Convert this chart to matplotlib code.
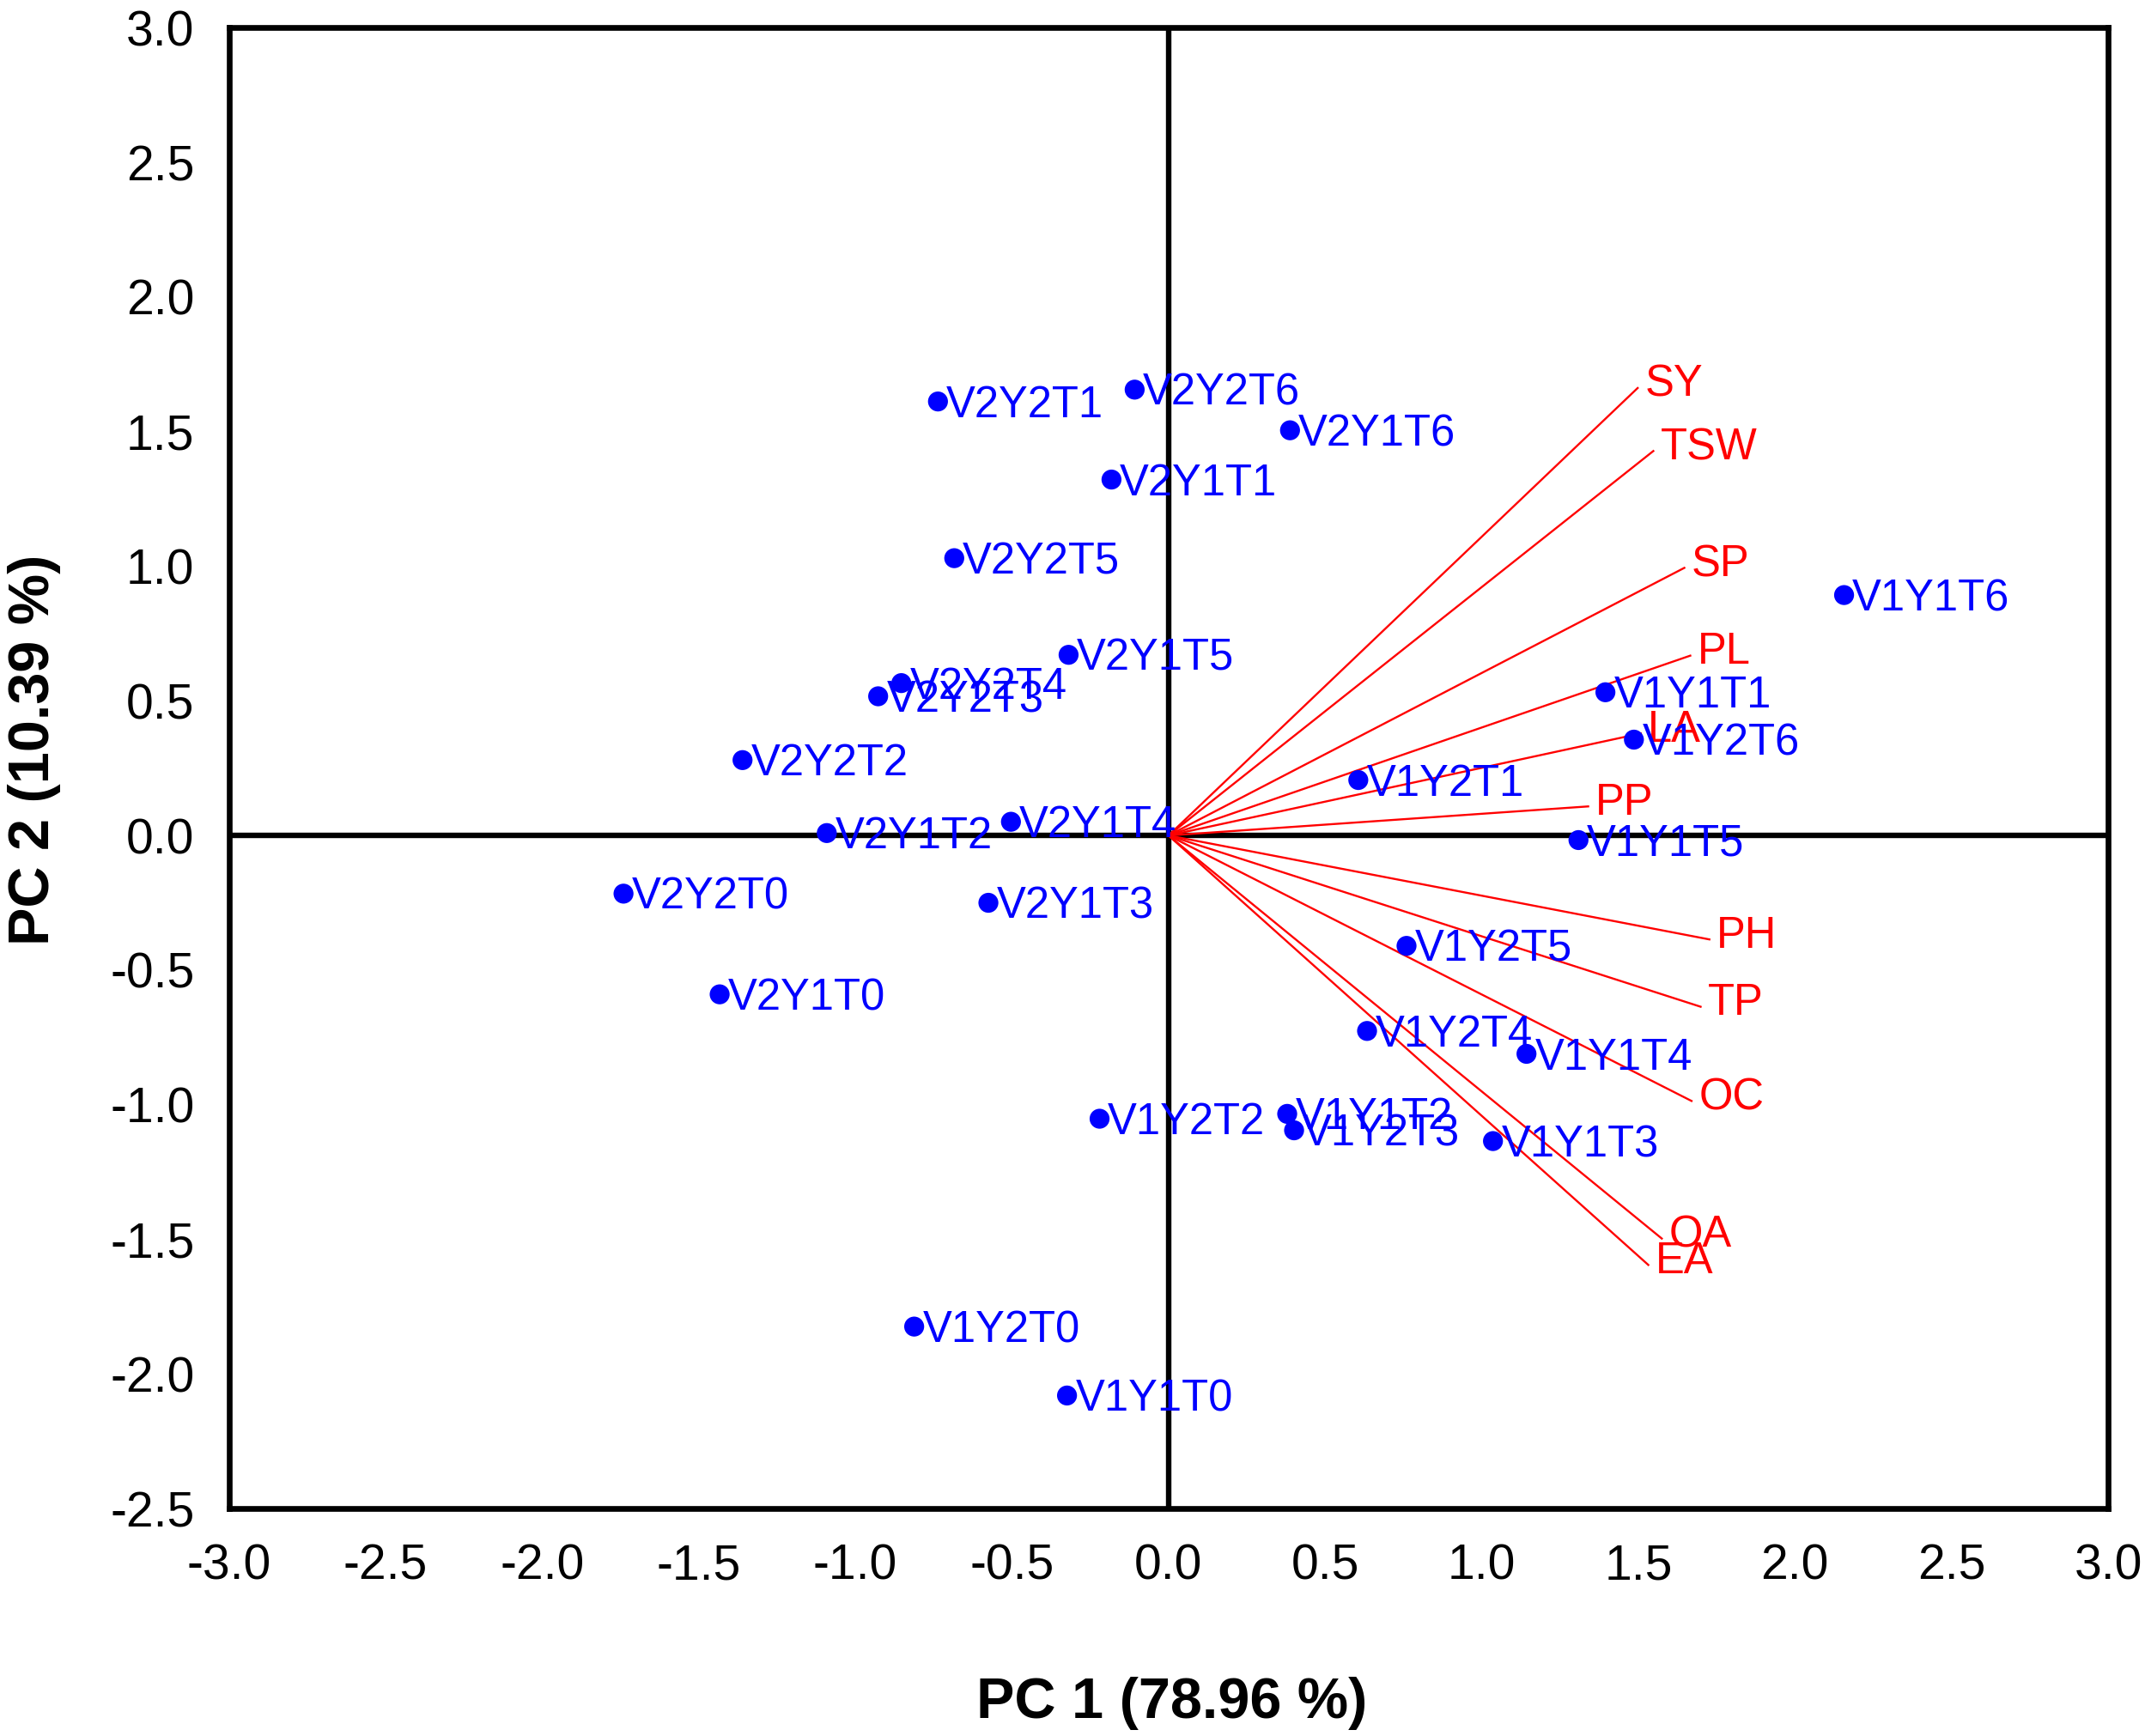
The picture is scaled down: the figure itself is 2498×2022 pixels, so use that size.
import matplotlib
matplotlib.use("Agg")
import matplotlib.pyplot as plt

plt.rcParams['font.family'] = ['Liberation Sans', 'DejaVu Sans']

# scores (PC1, PC2)
muestras = ['V2Y2T1', 'V2Y2T6', 'V2Y1T6', 'V2Y1T1', 'V2Y2T5', 'V2Y1T5',
            'V2Y2T4', 'V2Y2T3', 'V2Y2T2', 'V2Y1T2', 'V2Y1T4', 'V2Y2T0',
            'V2Y1T3', 'V2Y1T0', 'V1Y2T0', 'V1Y1T0', 'V1Y2T2', 'V1Y1T2',
            'V1Y2T3', 'V1Y1T3', 'V1Y1T4', 'V1Y2T4', 'V1Y2T5', 'V1Y1T5',
            'V1Y2T1', 'V1Y2T6', 'V1Y1T1', 'V1Y1T6']
pc1 = [-0.736, -0.108, 0.388, -0.182, -0.684, -0.319,
       -0.853, -0.927, -1.360, -1.091, -0.503, -1.740,
       -0.575, -1.433, -0.812, -0.324, -0.220, 0.379,
       0.401, 1.036, 1.143, 0.634, 0.760, 1.309,
       0.606, 1.486, 1.395, 2.157]
pc2 = [1.612, 1.656, 1.505, 1.322, 1.030, 0.671,
       0.566, 0.517, 0.280, 0.009, 0.051, -0.216,
       -0.250, -0.590, -1.824, -2.080, -1.052, -1.034,
       -1.095, -1.135, -0.811, -0.726, -0.410, -0.017,
       0.206, 0.356, 0.532, 0.893]

# loadings (vectores)
variables = ['SY', 'TSW', 'SP', 'PL', 'LA', 'PP', 'PH', 'TP', 'OC', 'OA', 'EA']
load1 = [1.498, 1.548, 1.647, 1.666, 1.508, 1.340, 1.727, 1.699, 1.670, 1.575, 1.532]
load2 = [1.662, 1.428, 0.994, 0.668, 0.379, 0.108, -0.386, -0.636, -0.986, -1.497, -1.595]

xticks = [-3.0, -2.5, -2.0, -1.5, -1.0, -0.5, 0.0, 0.5, 1.0, 1.5, 2.0, 2.5, 3.0]
yticks = [-2.5, -2.0, -1.5, -1.0, -0.5, 0.0, 0.5, 1.0, 1.5, 2.0, 2.5, 3.0]

fig = plt.figure(figsize=(24.98, 20.22), dpi=100)
ax = fig.add_axes([0.1067, 0.131, 0.8761, 0.853])

ax.axhline(0, color='black', lw=4.6, zorder=1)
ax.axvline(0, color='black', lw=4.6, zorder=1)

for v, a, b in zip(variables, load1, load2):
    ax.plot([0, a], [0, b], color='#FF0000', lw=1.7, zorder=2)
    ax.annotate(v, (a, b), xytext=(6, -7), textcoords='offset points',
                ha='left', va='baseline', fontsize=36.5, color='#FF0000', zorder=4)

ax.scatter(pc1, pc2, s=280, color='#0000FF', edgecolors='none', zorder=3)
for m, a, b in zip(muestras, pc1, pc2):
    ax.annotate(m, (a, b), xytext=(7, -13), textcoords='offset points',
                ha='left', va='baseline', fontsize=36.5, color='#0000FF', zorder=4)

ax.set_xlim(-3, 3)
ax.set_ylim(-2.5, 3)
ax.set_xticks(xticks)
ax.set_yticks(yticks)
ax.set_xticklabels([f'{t:.1f}' for t in xticks])
ax.set_yticklabels([f'{t:.1f}' for t in yticks])
ax.tick_params(length=0, pad=29, labelsize=41)
for sp in ax.spines.values():
    sp.set_linewidth(4.8)

fig.text(0.5465, 0.0188, 'PC 1 (78.96 %)', ha='center', va='center',
         fontsize=48, fontweight='bold')
fig.text(0.016, 0.568, 'PC 2 (10.39 %)', ha='center', va='center',
         fontsize=48, fontweight='bold', rotation=90)

fig.savefig('out.png', dpi=100)
